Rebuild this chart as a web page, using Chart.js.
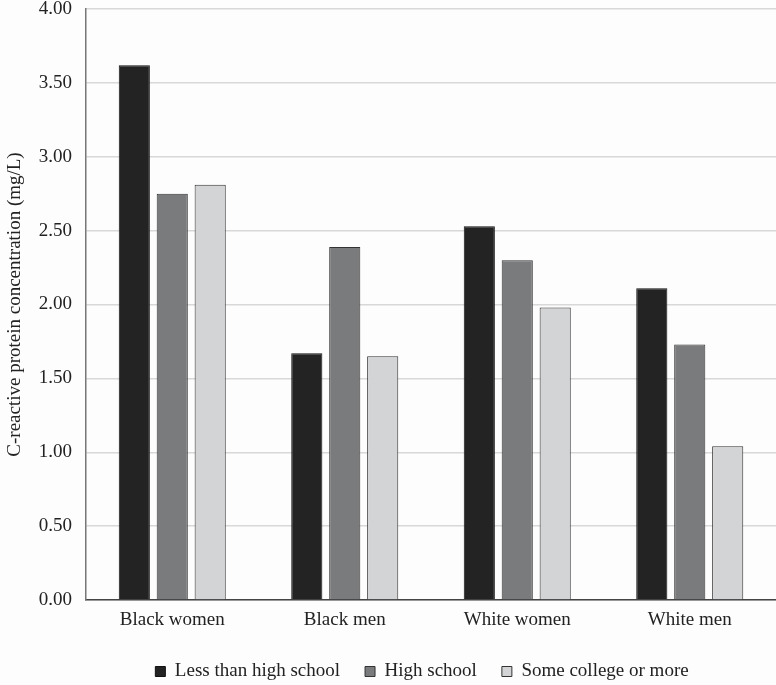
<!DOCTYPE html>
<html>
<head>
<meta charset="utf-8">
<script src="https://cdn.jsdelivr.net/npm/chart.js@4/dist/chart.umd.min.js"></script>
<style>
  html, body { margin: 0; padding: 0; background: #fdfdfd; }
  #wrap { width: 776px; height: 685px; }
</style>
</head>
<body>
<div id="wrap"><canvas id="chart"></canvas></div>
<script>
// groups along the x axis
const groups = ['Black women', 'Black men', 'White women', 'White men'];

// CRP (mg/L) by education level
const lessThanHighSchool = [3.62, 1.67, 2.53, 2.11];
const highSchool = [2.75, 2.39, 2.30, 1.73];
const someCollege = [2.81, 1.65, 1.98, 1.04];

const seriesNames = ['Less than high school', 'High school', 'Some college or more'];
const yTicks = [0, 0.5, 1, 1.5, 2, 2.5, 3, 3.5, 4];

const fillColors = ['#232323', '#7a7b7d', '#d3d4d6'];
const edgeColors = ['#111111', '#333333', '#333333'];

const font = { family: '"Liberation Serif", "Times New Roman", serif', size: 19 };

// nudge the legend a little, the default box leaves it too high
const legendNudge = {
    id: 'legendNudge',
    afterLayout(chart) {
        const l = chart.legend;
        l.top += 6; l.bottom += 6;
        l.left -= 9; l.right -= 9;
    }
};

const ctx = document.getElementById('chart').getContext('2d');
new Chart(ctx, {
    type: 'bar',
    data: {
        labels: groups,
        datasets: [lessThanHighSchool, highSchool, someCollege].map((vals, i) => ({
            label: seriesNames[i],
            data: vals,
            backgroundColor: fillColors[i],
            borderColor: edgeColors[i],
            borderWidth: 1,
            barPercentage: 0.82,
            categoryPercentage: 0.66
        }))
    },
    plugins: [legendNudge],
    options: {
        responsive: true,
        maintainAspectRatio: false,
        animation: false,
        layout: { padding: 0 },
        plugins: {
            tooltip: { enabled: false },
            legend: {
                position: 'bottom',
                fullSize: false,
                labels: {
                    font: font,
                    color: '#222',
                    boxWidth: 10,
                    boxHeight: 10,
                    padding: 25
                }
            }
        },
        scales: {
            x: {
                afterFit: (s) => { s.height = 31; },
                grid: { display: false, drawTicks: false },
                border: { color: '#444', width: 1.5 },
                ticks: { font: font, color: '#222', padding: 9 }
            },
            y: {
                min: 0,
                max: 4,
                afterBuildTicks: (s) => { s.ticks = yTicks.map(v => ({ value: v })); },
                afterFit: (s) => { s.width = 86; s.paddingTop = 9; s.paddingBottom = 0; },
                grid: { color: '#d8d8d8', lineWidth: 1.5, drawTicks: false },
                border: { color: '#777', width: 1.5 },
                ticks: {
                    font: font,
                    color: '#222',
                    padding: 14,
                    callback: (v) => Number(v).toFixed(2)
                },
                title: {
                    display: true,
                    text: 'C-reactive protein concentration (mg/L)',
                    font: font,
                    color: '#222',
                    padding: { top: 4, bottom: 0 }
                }
            }
        }
    }
});
</script>
</body>
</html>
